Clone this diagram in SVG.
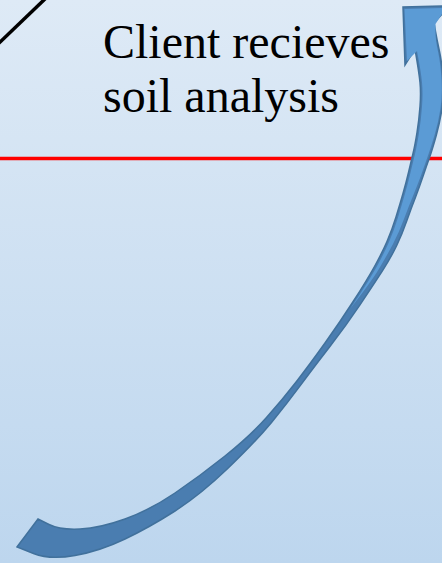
<svg xmlns="http://www.w3.org/2000/svg" width="442" height="563" viewBox="0 0 442 563">
  <defs>
    <linearGradient id="bg" x1="0" y1="0" x2="0" y2="1">
      <stop offset="0" stop-color="#deeaf6"/>
      <stop offset="1" stop-color="#bdd6ee"/>
    </linearGradient>
  </defs>
  <style>
    .lbl { font-family: "Liberation Serif", "Times New Roman", serif; font-size: 48px; fill: #000000; }
    .back { fill: #4a7db0; stroke: #41719c; stroke-width: 1.5; stroke-linejoin: miter; }
    .front { fill: #5b9bd5; stroke: none; }
  </style>
  <rect id="background" x="0" y="0" width="442" height="563" fill="url(#bg)"/>
  <g id="diagonal-line">
    <line x1="-2" y1="44" x2="46" y2="-2" stroke="#000000" stroke-width="3.5"/>
  </g>
  <g id="label">
    <text class="lbl" x="103" y="58">Client recieves</text>
    <text class="lbl" x="103" y="112">soil analysis</text>
  </g>
  <g id="red-line">
    <line x1="0" y1="158.5" x2="442" y2="158.5" stroke="#ff0000" stroke-width="3.5"/>
  </g>
  <g id="connectors">
    <path class="back" d="M 38,519 L 49,524.5 Q 60,530 80,529 Q 100,528 125,519 Q 150,510 175,493 Q 200,476 225,456 Q 250,436 266.5,417.5 Q 283,399 296.5,381.5 Q 310,364 325,343 Q 340,322 353.5,301 Q 367,280 374.5,266.5 Q 382,253 387,241.5 Q 392,230 396,217 Q 400,204 403,193.5 Q 406,183 408.5,172.5 Q 411,162 413,153.5 Q 415,145 417,132.5 Q 419,120 420,106.5 Q 421,93 420,82.5 Q 419,72 415,49 L 405,65 L 403,7 L 444,6 L 444,12 L 434,23 L 435.5,31.5 Q 437,40 439.5,51.5 Q 442,63 443,79 Q 444,95 442,108.7 Q 439.9,122.4 436.3,135.4 Q 432.7,148.4 429.7,157.1 Q 426.6,165.7 423.1,176.1 Q 419.6,186.5 415.6,197 Q 411.5,207.4 406.9,220.6 Q 402.3,233.8 396.6,245.7 Q 390.9,257.5 382.4,270.9 Q 373.8,284.2 359.8,305.1 Q 345.8,325.9 329.9,346.5 Q 314,367 300.8,384.9 Q 287.6,402.8 271.5,422.4 Q 255.4,441.9 227.7,468.5 Q 200,495 175,511 Q 150,527 125,539 Q 100,551 75,555.5 Q 50,560 33.5,553.5 L 17,547 Z"/>
    <path class="front" d="M 404.5,9 L 443,8 L 443,12.5 L 435.5,24 L 435.5,32 Q 435.5,40 438,51.5 Q 440.5,63 441.5,79 Q 442.5,95 440.5,108.6 Q 438.4,122.2 434.6,135.1 Q 430.7,148 427.7,156.6 Q 424.7,165.2 421,175.6 Q 417.2,185.9 412.9,196.2 Q 408.6,206.5 403.8,219.6 Q 399,232.6 393,244 Q 386.9,255.5 378.9,269 Q 370.8,282.4 350,309 L 359.4,295 Q 368.7,281 376.3,267.5 Q 383.8,253.9 388.9,242.3 Q 393.9,230.7 397.9,217.7 Q 401.9,204.6 404.9,194.1 Q 407.9,183.5 410.4,173 Q 412.9,162.5 415,154 Q 417,145.4 419,132.8 Q 421,120.2 422,106.6 Q 423,93 422,82.4 Q 421,71.7 417,51 L 407,61 Z"/>
  </g>
</svg>
